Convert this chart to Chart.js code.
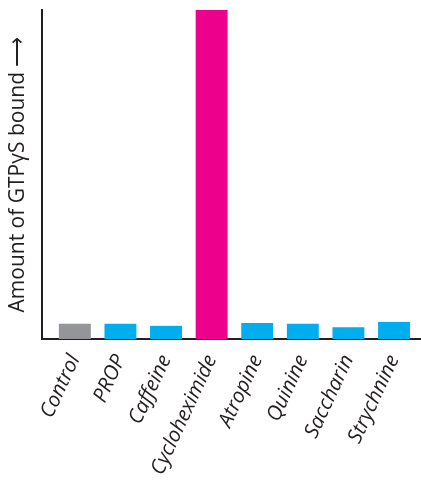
<!DOCTYPE html>
<html>
<head>
<meta charset="utf-8">
<script src="https://cdn.jsdelivr.net/npm/chart.js@4"></script>
<style>
  html, body { margin: 0; padding: 0; background: #fff; }
  #wrap { width: 421px; height: 483px; }
</style>
</head>
<body>
<div id="wrap"><canvas id="gtpChart"></canvas></div>
<script>
const categories = ['Control', 'PROP', 'Caffeine', 'Cycloheximide', 'Atropine', 'Quinine', 'Saccharin', 'Strychnine'];
const amounts = [4.6, 4.6, 4.0, 100, 4.9, 4.6, 3.6, 5.2];
const barColors = ['#939598', '#00aeef', '#00aeef', '#ec008c', '#00aeef', '#00aeef', '#00aeef', '#00aeef'];

function renderChart() {
    const ctx = document.getElementById('gtpChart').getContext('2d');
    new Chart(ctx, {
        type: 'bar',
        data: {
            datasets: [{
                label: 'Amount of GTPγS bound',
                data: amounts.map((v, i) => ({ x: i, y: v })),
                backgroundColor: barColors,
                borderWidth: 0,
                barPercentage: 0.7,
                categoryPercentage: 1
            }]
        },
        options: {
            responsive: true,
            maintainAspectRatio: false,
            animation: false,
            layout: { padding: { top: 10, right: 1, left: 0, bottom: 0 } },
            plugins: {
                legend: { display: false },
                tooltip: { enabled: false }
            },
            scales: {
                x: {
                    type: 'linear',
                    offset: false,
                    min: -0.72,
                    max: 7.57,
                    grid: { display: false },
                    border: { display: true, color: '#231f20', width: 2 },
                    afterBuildTicks: scale => {
                        scale.ticks = categories.map((_, i) => ({ value: i }));
                    },
                    afterFit: scale => { scale.height = 144; },
                    ticks: {
                        autoSkip: false,
                        minRotation: 65,
                        maxRotation: 65,
                        padding: 4,
                        color: '#231f20',
                        font: { family: 'Open Sans', size: 20.5, style: 'italic' },
                        callback: v => categories[v] || ''
                    }
                },
                y: {
                    min: 0,
                    max: 100,
                    grid: { display: false },
                    border: { display: true, color: '#231f20', width: 2 },
                    ticks: { display: false },
                    afterFit: scale => { scale.width = 42; },
                    title: {
                        display: true,
                        text: 'Amount of GTPγS bound ⟶',
                        color: '#231f20',
                        padding: { top: 5, bottom: 0 },
                        font: { family: 'Open Sans', size: 21 }
                    }
                }
            }
        }
    });
}

renderChart();
</script>
</body>
</html>
